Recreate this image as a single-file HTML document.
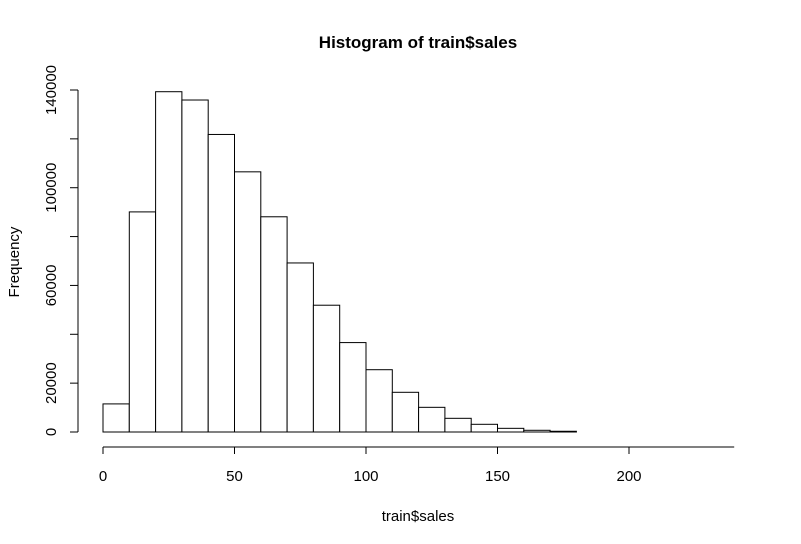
<!DOCTYPE html>
<html><head><meta charset="utf-8"><style>body{margin:0;background:#fff}svg{display:block;font-family:"Liberation Sans",Arial,sans-serif}</style></head>
<body>
<svg id="chart" width="801" height="544">
<text x="418" y="48" text-anchor="middle" font-weight="bold" font-size="17">Histogram of train$sales</text>
<text x="418" y="521" text-anchor="middle" font-size="15">train$sales</text>
<text transform="translate(19,262) rotate(-90)" text-anchor="middle" font-size="15">Frequency</text>
<g id="bars"></g><g id="xaxis"></g><g id="yaxis"></g>
</svg>
<script>
const binStarts=[0,10,20,30,40,50,60,70,80,90,100,110,120,130,140,150,160,170];
const counts=[11500,90100,139300,135900,121800,106500,88100,69200,51900,36600,25500,16250,10100,5600,3150,1500,700,300];
const binWidth=10;
const xTicks=[0,50,100,150,200];
const yTicks=[0,20000,40000,60000,80000,100000,120000,140000];
const yLabels=[0,20000,60000,100000,140000];
const NS='http://www.w3.org/2000/svg';
const xs=v=>103+v*(629-103)/200;
const ys=v=>432-v*(432-90)/140000;
function mk(t,a,p){const e=document.createElementNS(NS,t);for(const k in a)e.setAttribute(k,a[k]);p.appendChild(e);return e;}
const bars=document.getElementById('bars');
binStarts.forEach((b,i)=>{
 const r=mk('rect',{x:xs(b),y:ys(counts[i]),width:xs(b+binWidth)-xs(b),height:ys(0)-ys(counts[i]),fill:'#fff',stroke:'#000','stroke-width':1},bars);
 
 
});
const xa=document.getElementById('xaxis');
mk('line',{x1:xs(0),x2:xs(240),y1:447,y2:447,stroke:'#000'},xa);
xTicks.forEach(t=>{
 mk('line',{x1:xs(t),x2:xs(t),y1:447,y2:454,stroke:'#000'},xa);
 const tx=mk('text',{x:xs(t),y:481,'text-anchor':'middle','font-size':15},xa);tx.textContent=t;
 
 
});
const ya=document.getElementById('yaxis');
mk('line',{x1:78,x2:78,y1:ys(0),y2:ys(140000),stroke:'#000'},ya);
yTicks.forEach(t=>{mk('line',{x1:70,x2:78,y1:ys(t),y2:ys(t),stroke:'#000'},ya);});
yLabels.forEach(t=>{
 const tx=mk('text',{transform:'translate(56,'+ys(t)+') rotate(-90)','text-anchor':'middle','font-size':15},ya);tx.textContent=t;
 
 
});
</script>
</body></html>
